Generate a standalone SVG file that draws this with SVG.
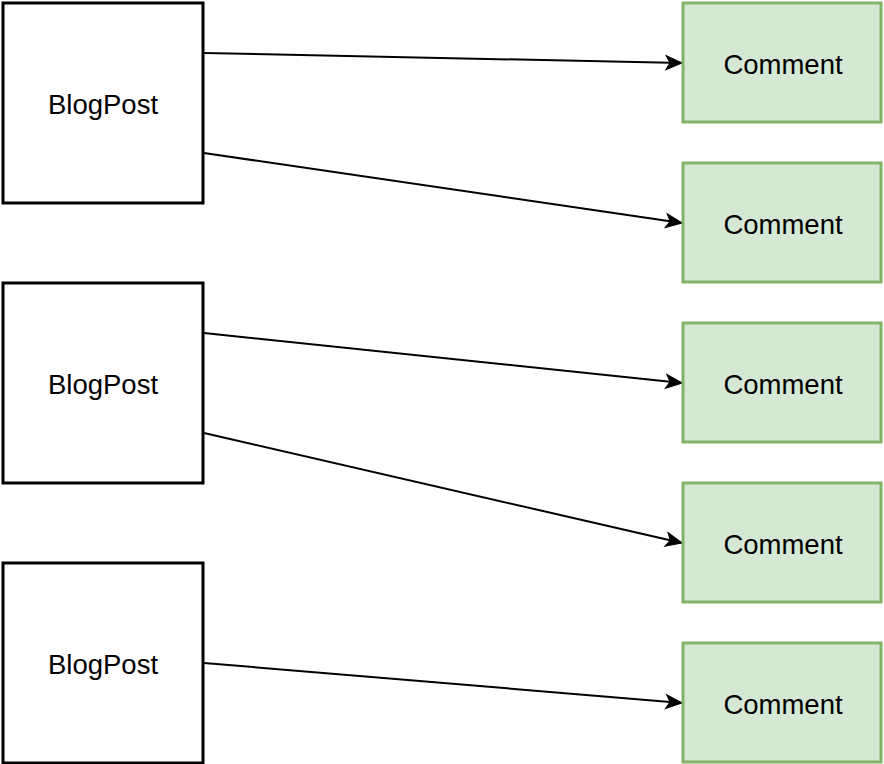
<svg xmlns="http://www.w3.org/2000/svg" width="884" height="764" viewBox="0 0 884 764">
<style>
.post{fill:#ffffff;stroke:#000000;stroke-width:3}
.comment{fill:#d5e8d4;stroke:#82b366;stroke-width:3}
.lbl{font-family:"Liberation Sans",Arial,Helvetica,sans-serif;font-size:27.5px;fill:#000000;text-anchor:middle}
.edge{fill:none;stroke:#000000;stroke-width:2}
</style>
<defs>
<marker id="arr" markerUnits="userSpaceOnUse" viewBox="-18 -9 20 18" refX="0" refY="0" markerWidth="20" markerHeight="18" orient="auto">
<path d="M0,0 L-16,-7 L-12,0 L-16,7 Z" fill="#000000" stroke="#000000" stroke-width="1"/>
</marker>
</defs>
<rect width="884" height="764" fill="#ffffff"/>
<g id="connectors">
<line class="edge" x1="204" y1="53" x2="682" y2="63" marker-end="url(#arr)"/>
<line class="edge" x1="204" y1="153" x2="682" y2="223" marker-end="url(#arr)"/>
<line class="edge" x1="204" y1="333" x2="682" y2="383" marker-end="url(#arr)"/>
<line class="edge" x1="204" y1="433" x2="682" y2="543" marker-end="url(#arr)"/>
<line class="edge" x1="204" y1="663" x2="682" y2="703" marker-end="url(#arr)"/>
</g>
<g id="blogpost1"><rect class="post" x="3" y="3" width="200" height="200"/><text class="lbl" x="103" y="114">BlogPost</text></g>
<g id="blogpost2"><rect class="post" x="3" y="283" width="200" height="200"/><text class="lbl" x="103" y="394">BlogPost</text></g>
<g id="blogpost3"><rect class="post" x="3" y="563" width="200" height="200"/><text class="lbl" x="103" y="674">BlogPost</text></g>
<g id="comment1"><rect class="comment" x="683" y="3" width="198" height="119"/><text class="lbl" x="783" y="74">Comment</text></g>
<g id="comment2"><rect class="comment" x="683" y="163" width="198" height="119"/><text class="lbl" x="783" y="234">Comment</text></g>
<g id="comment3"><rect class="comment" x="683" y="323" width="198" height="119"/><text class="lbl" x="783" y="394">Comment</text></g>
<g id="comment4"><rect class="comment" x="683" y="483" width="198" height="119"/><text class="lbl" x="783" y="554">Comment</text></g>
<g id="comment5"><rect class="comment" x="683" y="643" width="198" height="119"/><text class="lbl" x="783" y="714">Comment</text></g>
</svg>
